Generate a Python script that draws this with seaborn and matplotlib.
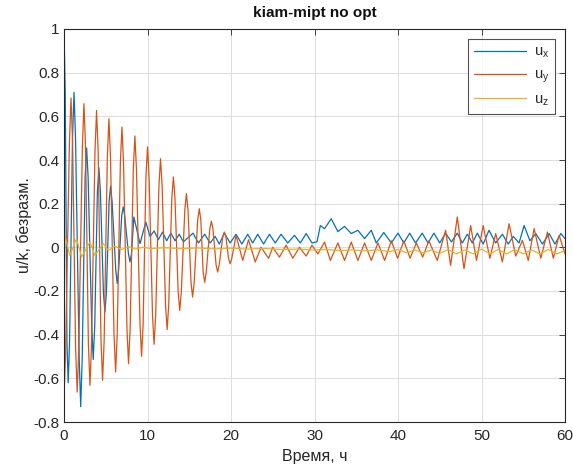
import matplotlib
matplotlib.use("Agg")
import matplotlib.pyplot as plt
import seaborn as sns
import pandas as pd

# ---- data (points along each signal) ----
ux_t = [0.0, 0.15, 0.35, 0.5, 0.67, 1.02, 1.2, 1.38, 1.82, 2.0,
        2.18, 2.53, 2.71, 2.89, 3.32, 3.5, 3.68, 4.0, 4.18, 4.36,
        4.72, 4.9, 5.08, 5.4, 5.58, 5.76, 6.19, 6.37, 6.55, 6.91,
        7.09, 7.27, 7.72, 7.9, 8.08,
        8.37, 9.1, 9.8, 10.3, 10.8, 11.3, 11.8, 12.3,
        12.8, 13.3, 13.8, 14.3, 15.45, 16.1, 16.85, 17.5, 18.1, 18.6,
        19.2, 19.9, 20.6, 21.3, 22.0, 22.6, 23.2, 23.9, 24.6, 25.3,
        26.0, 26.8, 27.6, 28.3, 29.0, 29.7, 30.3, 30.7, 31.2, 32.0,
        32.8, 33.6, 34.4, 35.2, 36.0, 36.8, 37.4, 38.3, 39.2, 40.0,
        40.7, 41.4, 42.1, 42.9, 43.6, 44.3, 45.0, 45.7, 46.4, 47.1,
        47.7, 48.3, 48.9, 49.5, 50.2, 50.9, 51.7, 52.5, 53.2, 53.8,
        54.5, 55.1, 55.8, 56.5, 57.3, 58.1, 58.8, 59.5, 60.0]
ux_v = [1.0, 0.70, -0.43, -0.62, -0.43, 0.50, 0.71, 0.50, -0.51, -0.73,
        -0.51, 0.32, 0.455, 0.32, -0.36, -0.514, -0.36, 0.256, 0.365, 0.256,
        -0.207, -0.296, -0.207, 0.21, 0.28, 0.21, -0.10, -0.166, -0.10, 0.145,
        0.185, 0.145, -0.03, -0.067, -0.03,
        0.139, 0.017, 0.116, 0.05, 0.075, 0.035, 0.07, 0.03,
        0.065, 0.03, 0.06, 0.025, 0.065, 0.02, 0.06, 0.02, 0.05, 0.015,
        0.065, 0.02, 0.06, 0.015, 0.06, 0.02, 0.06, 0.015, 0.06, 0.02,
        0.06, 0.02, 0.055, 0.02, 0.063, 0.02, 0.025, 0.1, 0.085, 0.131,
        0.072, 0.096, 0.063, 0.078, 0.04, 0.078, 0.02, 0.068, 0.02, 0.065,
        0.02, 0.065, 0.02, 0.065, 0.02, 0.065, 0.02, 0.065, 0.025, 0.065,
        0.02, 0.06, 0.02, 0.065, 0.015, 0.078, 0.02, 0.06, 0.015, 0.05,
        0.02, 0.1, 0.03, 0.063, 0.015, 0.063, 0.015, 0.063, 0.04]

uy_t = [0.0, 0.19, 0.65, 0.84, 1.03, 1.39, 1.58, 1.77, 2.20, 2.39,
        2.58, 2.92, 3.11, 3.30, 3.71, 3.9, 4.09, 4.43, 4.62, 4.81,
        5.19, 5.38, 5.57, 5.99, 6.18, 6.37, 6.75, 6.94, 7.13, 7.54,
        7.73, 7.92, 8.30, 8.49, 8.68, 9.10, 9.29, 9.48, 9.81, 10.0,
        10.19, 10.60, 10.79, 10.98, 11.37, 11.56, 11.75, 12.16, 12.35, 12.54,
        12.91, 13.1, 13.29, 13.67, 13.86, 14.05, 14.47, 14.66, 14.85, 15.21,
        15.4, 15.59, 16.01, 16.2, 16.39, 16.66, 16.85, 17.04, 17.46, 17.65,
        17.84, 18.21, 18.4, 18.59, 19.01, 19.2, 19.39, 19.71, 19.9, 20.09,
        20.6, 21.4, 22.1,
        22.9, 23.6, 24.5, 25.0, 25.8, 26.6, 27.4, 28.2, 29.0, 29.7,
        30.4, 31.2, 31.9, 32.8, 33.6, 34.4, 35.2, 36.0, 36.8, 37.6,
        38.4, 39.2, 39.95, 40.7, 41.45, 42.2, 42.95, 43.7, 44.7, 45.7,
        46.3, 47.1, 47.9, 48.7, 49.4, 50.2, 51.0, 51.7, 52.5, 53.3,
        54.1, 54.9, 55.6, 56.3, 57.1, 57.9, 58.6, 59.3, 60.0]
uy_v = [-0.686, -0.48, 0.48, 0.684, 0.48, -0.464, -0.663, -0.464, 0.46, 0.658,
        0.46, -0.442, -0.632, -0.442, 0.439, 0.627, 0.439, -0.426, -0.609, -0.426,
        0.412, 0.589, 0.412, -0.40, -0.571, -0.40, 0.386, 0.551, 0.386, -0.373,
        -0.533, -0.373, 0.357, 0.51, 0.357, -0.349, -0.499, -0.349, 0.322, 0.46,
        0.322, -0.311, -0.444, -0.311, 0.284, 0.406, 0.284, -0.264, -0.377, -0.264,
        0.225, 0.322, 0.225, -0.202, -0.289, -0.202, 0.172, 0.246, 0.172, -0.16,
        -0.228, -0.16, 0.124, 0.177, 0.124, -0.112, -0.16, -0.112, 0.084, 0.12,
        0.084, -0.079, -0.113, -0.079, 0.049, 0.07, 0.049, -0.052, -0.075, -0.052,
        0.055, -0.06, 0.035,
        -0.067, 0.0, -0.05, 0.0, -0.045, 0.01, -0.05, 0.0, -0.04, 0.01,
        -0.03, 0.024, -0.06, 0.02, -0.06, 0.024, -0.06, 0.02, -0.06, 0.02,
        -0.06, 0.03, -0.05, 0.03, -0.05, 0.02, -0.045, 0.03, -0.06, 0.078,
        -0.083, 0.139, -0.098, 0.1, -0.06, 0.1, -0.05, 0.063, -0.067, 0.108,
        -0.04, 0.032, -0.06, 0.086, -0.05, 0.07, -0.05, 0.055, -0.03]

uz_t = [0.0, 0.7, 1.5, 2.1, 3.1, 3.7, 4.7, 5.3, 6.1, 6.9,
        7.7, 8.5, 9.5, 10.5, 12.0, 14.0, 16.0, 18.0, 20.0, 22.0,
        24.0, 26.0, 28.0, 30.0, 31.5, 33.0, 34.5, 36.0, 37.5, 39.0,
        40.0, 41.0, 42.0, 43.0, 44.0, 45.0, 46.0, 47.0, 48.0, 49.0,
        50.0, 51.0, 52.0, 53.0, 54.0, 55.0, 56.0, 57.0, 58.0, 59.0, 60.0]
uz_v = [0.07, -0.037, 0.04, -0.044, 0.024, -0.037, 0.017, -0.014, 0.005, -0.01,
        0.003, -0.008, 0.0, -0.006, -0.002, -0.006, -0.003, -0.007, -0.004, -0.008,
        -0.005, -0.01, -0.008, -0.012, -0.01, -0.015, -0.012, -0.016, -0.012, -0.02,
        -0.01, -0.025, -0.012, -0.025, -0.012, -0.028, -0.01, -0.03, -0.012, -0.03,
        -0.008, -0.03, -0.01, -0.03, -0.01, -0.03, -0.012, -0.03, -0.01, -0.03, -0.015]

series_names = ["u$_x$", "u$_y$", "u$_z$"]
colors = ["#0072BD", "#D95319", "#EDB120"]
x_ticks = [0, 10, 20, 30, 40, 50, 60]
y_ticks = [-0.8, -0.6, -0.4, -0.2, 0, 0.2, 0.4, 0.6, 0.8, 1]

frames = []
for name, t, v in zip(series_names, [ux_t, uy_t, uz_t], [ux_v, uy_v, uz_v]):
    assert len(t) == len(v), name
    frames.append(pd.DataFrame({"t": t, "v": v, "s": name}))
df = pd.concat(frames, ignore_index=True)

sns.set_theme(style="white")
plt.rcParams["font.family"] = ["Liberation Sans", "DejaVu Sans"]
plt.rcParams["mathtext.default"] = "regular"

fig = plt.figure(figsize=(5.73, 4.71), dpi=100)
ax = fig.add_axes([64 / 573, 49 / 471, (565 - 64) / 573, (422 - 29) / 471])

sns.lineplot(data=df, x="t", y="v", hue="s", palette=colors, estimator=None,
             sort=False, linewidth=0.9, ax=ax, hue_order=series_names)

ax.set_xlim(0, 60)
ax.set_ylim(-0.8, 1)
ax.set_xticks(x_ticks)
ax.set_yticks(y_ticks)
ax.set_yticklabels([("%g" % y) for y in y_ticks])
ax.grid(True, color="#dcdcdc", linewidth=0.7)
ax.tick_params(direction="in", length=4, top=True, right=True, labelsize=11,
               colors="#262626", width=0.6)
ax.tick_params(axis="x", pad=5)
for sp in ax.spines.values():
    sp.set_color("#262626")
    sp.set_linewidth(0.8)
ax.set_xlabel("Время, ч", fontsize=11.5, color="#262626", labelpad=4)
ax.set_ylabel("u/k, безразм.", fontsize=11.5, color="#262626", labelpad=1)
ax.set_title("kiam-mipt no opt", fontsize=11, fontweight="bold", color="#111111", pad=9)

leg = ax.legend(loc="upper right", fontsize=10.5, handlelength=3.6, frameon=True,
                fancybox=False, edgecolor="#262626", borderaxespad=0.7,
                labelspacing=0.5, handletextpad=0.5)
leg.get_frame().set_linewidth(0.8)

fig.savefig("out.png", dpi=100)
